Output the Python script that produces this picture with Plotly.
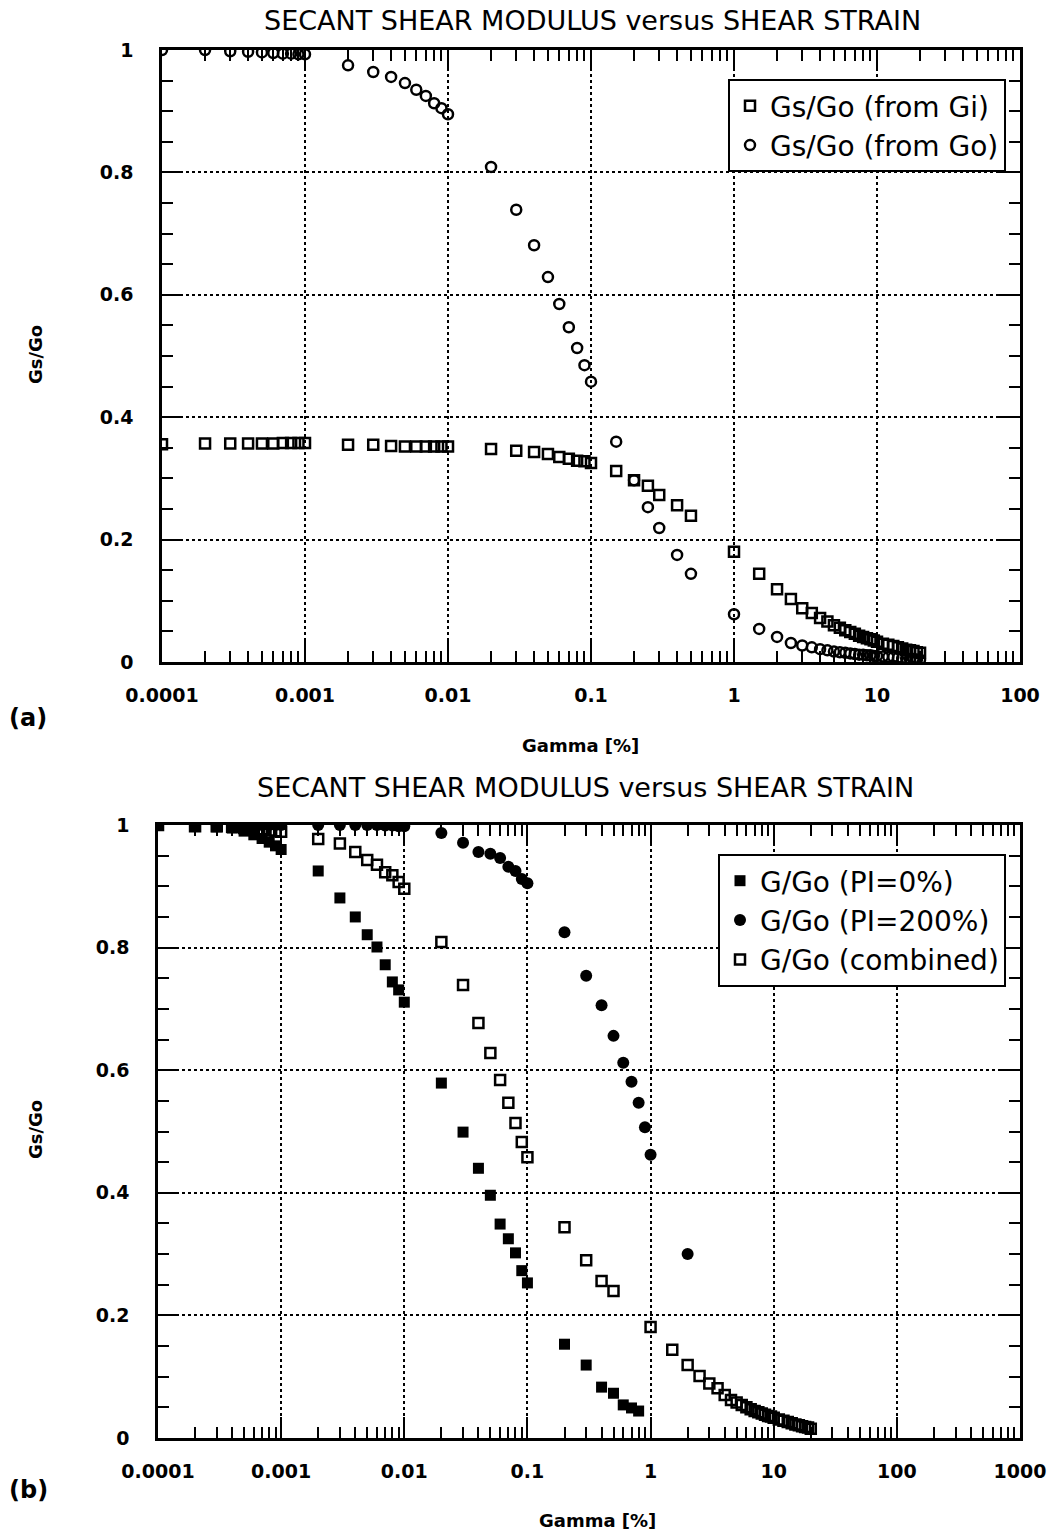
import plotly.graph_objects as go

# ---------------- data ----------------
# Panel (a)
gi_x = [0.0001, 0.0002, 0.0003, 0.0004, 0.0005, 0.0006, 0.0007, 0.0008, 0.0009, 0.001,
        0.002, 0.003, 0.004, 0.005, 0.006, 0.007, 0.008, 0.009, 0.01,
        0.02, 0.03, 0.04, 0.05, 0.06, 0.07, 0.08, 0.09, 0.1,
        0.15, 0.2, 0.25, 0.3, 0.4, 0.5,
        1, 1.5, 2, 2.5, 3, 3.5, 4, 4.5, 5, 5.5, 6, 6.5, 7, 7.5, 8, 8.5, 9, 9.5,
        10, 11, 12, 13, 14, 15, 16, 17, 18, 19, 20]
gi_y = [0.356, 0.357, 0.357, 0.357, 0.357, 0.357, 0.358, 0.358, 0.358, 0.358,
        0.355, 0.355, 0.353, 0.352, 0.352, 0.352, 0.352, 0.352, 0.352,
        0.348, 0.345, 0.343, 0.340, 0.335, 0.332, 0.329, 0.328, 0.325,
        0.312, 0.297, 0.288, 0.273, 0.256, 0.239,
        0.180, 0.144, 0.119, 0.103, 0.088, 0.080, 0.072, 0.066, 0.060, 0.056, 0.052, 0.049,
        0.046, 0.043, 0.041, 0.039, 0.037, 0.035,
        0.033, 0.030, 0.028, 0.026, 0.024, 0.022, 0.020, 0.019, 0.018, 0.016, 0.015]

go_x = [0.0001, 0.0002, 0.0003, 0.0004, 0.0005, 0.0006, 0.0007, 0.0008, 0.0009, 0.001,
        0.002, 0.003, 0.004, 0.005, 0.006, 0.007, 0.008, 0.009, 0.01,
        0.02, 0.03, 0.04, 0.05, 0.06, 0.07, 0.08, 0.09, 0.1,
        0.15, 0.2, 0.25, 0.3, 0.4, 0.5,
        1, 1.5, 2, 2.5, 3, 3.5, 4, 4.5, 5, 5.5, 6, 6.5, 7, 7.5, 8, 8.5, 9, 9.5,
        10, 11, 12, 13, 14, 15, 16, 17, 18, 19, 20]
go_y = [1.0, 1.0, 0.998, 0.997, 0.996, 0.995, 0.994, 0.994, 0.993, 0.993,
        0.975, 0.964, 0.956, 0.946, 0.935, 0.925, 0.913, 0.905, 0.895,
        0.809, 0.739, 0.681, 0.629, 0.585, 0.547, 0.513, 0.485, 0.458,
        0.360, 0.297, 0.253, 0.219, 0.175, 0.144,
        0.078, 0.054, 0.041, 0.031, 0.027, 0.024, 0.021, 0.019, 0.017, 0.016, 0.015, 0.014,
        0.013, 0.012, 0.012, 0.011, 0.011, 0.010,
        0.010, 0.009, 0.008, 0.008, 0.007, 0.006, 0.006, 0.005, 0.005, 0.004, 0.004]

# Panel (b)
pi0_x = [0.0001, 0.0002, 0.0003, 0.0004, 0.0005, 0.0006, 0.0007, 0.0008, 0.0009, 0.001,
         0.002, 0.003, 0.004, 0.005, 0.006, 0.007, 0.008, 0.009, 0.01,
         0.02, 0.03, 0.04, 0.05, 0.06, 0.07, 0.08, 0.09, 0.1,
         0.2, 0.3, 0.4, 0.5, 0.6, 0.7, 0.8]
pi0_y = [1.0, 0.998, 0.997, 0.995, 0.990, 0.984, 0.978, 0.972, 0.966, 0.960,
         0.925, 0.881, 0.850, 0.821, 0.801, 0.772, 0.744, 0.731, 0.711,
         0.579, 0.499, 0.440, 0.396, 0.349, 0.325, 0.302, 0.273, 0.253,
         0.153, 0.119, 0.083, 0.073, 0.054, 0.049, 0.044]

pi200_x = [0.0001, 0.0002, 0.0003, 0.0004, 0.0005, 0.0006, 0.0007, 0.0008, 0.0009, 0.001,
           0.002, 0.003, 0.004, 0.005, 0.006, 0.007, 0.008, 0.009, 0.01,
           0.02, 0.03, 0.04, 0.05, 0.06, 0.07, 0.08, 0.09, 0.1,
           0.2, 0.3, 0.4, 0.5, 0.6, 0.7, 0.8, 0.9, 1.0, 2.0]
pi200_y = [1.0, 1.0, 1.0, 1.0, 1.0, 1.0, 1.0, 1.0, 1.0, 1.0,
           1.0, 1.0, 1.0, 1.0, 1.0, 0.999, 0.999, 0.998, 0.998,
           0.987, 0.971, 0.956, 0.953, 0.946, 0.932, 0.925, 0.912, 0.905,
           0.825, 0.754, 0.706, 0.656, 0.612, 0.581, 0.547, 0.507, 0.462, 0.300]

comb_x = [0.0001, 0.0002, 0.0003, 0.0004, 0.0005, 0.0006, 0.0007, 0.0008, 0.0009, 0.001,
          0.002, 0.003, 0.004, 0.005, 0.006, 0.007, 0.008, 0.009, 0.01,
          0.02, 0.03, 0.04, 0.05, 0.06, 0.07, 0.08, 0.09, 0.1,
          0.2, 0.3, 0.4, 0.5,
          1, 1.5, 2, 2.5, 3, 3.5, 4, 4.5, 5, 5.5, 6, 6.5, 7, 7.5, 8, 8.5, 9, 9.5,
          10, 11, 12, 13, 14, 15, 16, 17, 18, 19, 20]
comb_y = [1.0, 0.998, 0.998, 0.997, 0.995, 0.995, 0.993, 0.991, 0.990, 0.989,
          0.977, 0.970, 0.956, 0.943, 0.935, 0.923, 0.918, 0.907, 0.896,
          0.809, 0.739, 0.677, 0.628, 0.584, 0.547, 0.514, 0.483, 0.458,
          0.344, 0.290, 0.256, 0.240,
          0.181, 0.144, 0.119, 0.101, 0.089, 0.081, 0.070, 0.062, 0.058, 0.054, 0.050, 0.047,
          0.044, 0.042, 0.040, 0.038, 0.036, 0.035,
          0.033, 0.030, 0.028, 0.026, 0.024, 0.022, 0.021, 0.019, 0.018, 0.017, 0.015]

title_text = "SECANT SHEAR MODULUS versus SHEAR STRAIN"
top_ticks = [0.0001, 0.001, 0.01, 0.1, 1, 10, 100]
top_ticklabels = ["0.0001", "0.001", "0.01", "0.1", "1", "10", "100"]
bot_ticks = [0.0001, 0.001, 0.01, 0.1, 1, 10, 100, 1000]
bot_ticklabels = ["0.0001", "0.001", "0.01", "0.1", "1", "10", "100", "1000"]
y_ticks = [0, 0.2, 0.4, 0.6, 0.8, 1]
y_ticklabels = ["0", "0.2", "0.4", "0.6", "0.8", "1"]

# ---------------- figure ----------------
W, H = 1047, 1534
def px_x(p):
    return p / W
def px_y(p):
    return 1 - p / H

fig = go.Figure()
open_line = dict(color="black", width=2.5)

fig.add_trace(go.Scatter(x=gi_x, y=gi_y, mode="markers", name="Gs/Go (from Gi)",
                         marker=dict(symbol="square-open", size=10, color="black", line=open_line),
                         xaxis="x", yaxis="y", legend="legend"))
fig.add_trace(go.Scatter(x=go_x, y=go_y, mode="markers", name="Gs/Go (from Go)",
                         marker=dict(symbol="circle-open", size=10, color="black", line=open_line),
                         xaxis="x", yaxis="y", legend="legend"))

fig.add_trace(go.Scatter(x=pi0_x, y=pi0_y, mode="markers", name="G/Go (PI=0%)",
                         marker=dict(symbol="square", size=11, color="black"),
                         xaxis="x2", yaxis="y2", legend="legend2"))
fig.add_trace(go.Scatter(x=pi200_x, y=pi200_y, mode="markers", name="G/Go (PI=200%)",
                         marker=dict(symbol="circle", size=12, color="black"),
                         xaxis="x2", yaxis="y2", legend="legend2"))
fig.add_trace(go.Scatter(x=comb_x, y=comb_y, mode="markers", name="G/Go (combined)",
                         marker=dict(symbol="square-open", size=10, color="black", line=open_line),
                         xaxis="x2", yaxis="y2", legend="legend2"))

tickfont = dict(family="DejaVu Sans", size=19, color="black", weight="bold")

def minor_log(lo, hi):
    vals = []
    for e in range(lo, hi):
        for m in range(2, 10):
            vals.append(m * 10.0 ** e)
    return vals

def xaxis_cfg(dom, rng, ticks, labels, anchor, mlo, mhi):
    return dict(type="log", range=rng, domain=dom, anchor=anchor, automargin=False,
                tickmode="array", tickvals=ticks, ticktext=labels,
                ticks="inside", ticklen=21, tickwidth=2, tickcolor="black",
                showline=True, linewidth=2.5, linecolor="black", mirror="allticks",
                showgrid=True, gridcolor="black", griddash="dot", gridwidth=2,
                zeroline=False, tickfont=tickfont, ticklabelstandoff=14,
                minor=dict(tickmode="array", tickvals=minor_log(mlo, mhi), ticks="inside",
                           ticklen=11, tickwidth=2, tickcolor="black", showgrid=False))

def yaxis_cfg(dom, anchor):
    return dict(range=[0, 1], domain=dom, anchor=anchor, automargin=False,
                tickmode="array", tickvals=y_ticks, ticktext=y_ticklabels,
                ticks="inside", ticklen=21, tickwidth=2, tickcolor="black",
                showline=True, linewidth=2.5, linecolor="black", mirror="allticks",
                showgrid=True, gridcolor="black", griddash="dot", gridwidth=2,
                zeroline=False, tickfont=tickfont, ticklabelstandoff=22,
                minor=dict(dtick=0.05, ticks="inside", ticklen=11, tickwidth=2,
                           tickcolor="black", showgrid=False))

legend_font = dict(family="DejaVu Sans", size=28, color="black")

fig.update_layout(
    width=W, height=H, margin=dict(l=0, r=0, t=0, b=0, autoexpand=False),
    paper_bgcolor="white", plot_bgcolor="white", showlegend=True,
    xaxis=xaxis_cfg([px_x(162), px_x(1020)], [-4, 2], top_ticks, top_ticklabels, "y", -4, 2),
    yaxis=yaxis_cfg([px_y(662), px_y(50)], "x"),
    xaxis2=xaxis_cfg([px_x(158), px_x(1020)], [-4, 3], bot_ticks, bot_ticklabels, "y2", -4, 3),
    yaxis2=yaxis_cfg([px_y(1438), px_y(825)], "x2"),
    legend=dict(x=px_x(1006), xanchor="right", y=px_y(79), yanchor="top",
                bgcolor="white", bordercolor="black", borderwidth=2,
                font=legend_font, itemsizing="trace", tracegroupgap=0),
    legend2=dict(x=px_x(1006), xanchor="right", y=px_y(854), yanchor="top",
                 bgcolor="white", bordercolor="black", borderwidth=2,
                 font=legend_font, itemsizing="trace", tracegroupgap=0),
)

ann_title = dict(family="DejaVu Sans", size=27, color="black")
ann_bold = dict(family="DejaVu Sans", size=18, color="black", weight="bold")
annotations = [
    dict(text=title_text, x=px_x(592), y=px_y(20), font=ann_title),
    dict(text=title_text, x=px_x(585), y=px_y(787), font=ann_title),
    dict(text="Gamma [%]", x=px_x(580), y=px_y(745), font=ann_bold),
    dict(text="Gamma [%]", x=px_x(597), y=px_y(1520), font=ann_bold),
    dict(text="Gs/Go", x=px_x(35), y=px_y(355), font=ann_bold, textangle=-90),
    dict(text="Gs/Go", x=px_x(35), y=px_y(1130), font=ann_bold, textangle=-90),
    dict(text="(a)", x=px_x(28), y=px_y(718), font=dict(family="DejaVu Sans", size=24, color="black", weight="bold")),
    dict(text="(b)", x=px_x(28), y=px_y(1490), font=dict(family="DejaVu Sans", size=24, color="black", weight="bold")),
]
for a in annotations:
    a.update(xref="paper", yref="paper", showarrow=False, xanchor="center", yanchor="middle")
fig.update_layout(annotations=annotations)

fig.write_html("out.html")
